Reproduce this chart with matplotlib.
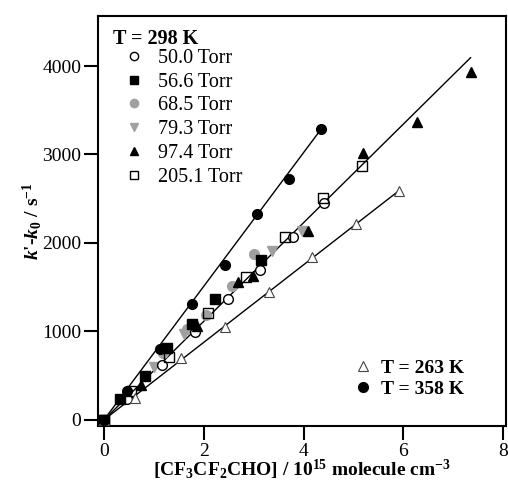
import matplotlib.pyplot as plt
import numpy as np

plt.rcParams['font.family'] = ['Liberation Serif', 'DejaVu Serif']
plt.rcParams['mathtext.fontset'] = 'custom'
plt.rcParams['mathtext.rm'] = 'Liberation Serif'
plt.rcParams['mathtext.it'] = 'Liberation Serif:italic'
plt.rcParams['mathtext.bf'] = 'Liberation Serif:bold'
plt.rcParams['mathtext.bfit'] = 'Liberation Serif:italic:bold'

# T = 298 K, different pressures
x_50 = [0, 0.46, 1.16, 1.82, 2.48, 3.13, 3.79, 4.42]
y_50 = [0, 234, 621, 998, 1363, 1695, 2064, 2448]
x_56 = [0, 0.32, 0.82, 1.27, 1.76, 2.23, 3.15]
y_56 = [0, 237, 497, 817, 1085, 1363, 1808]
x_68 = [0, 1.19, 1.66, 2.05, 2.56, 3.01]
y_68 = [0, 753, 1025, 1190, 1514, 1876]
x_79 = [0, 1.01, 1.60, 3.37, 3.96]
y_79 = [0, 602, 970, 1913, 2139]
x_97 = [0, 0.74, 1.87, 2.68, 2.99, 4.10, 5.19, 6.27, 7.35]
y_97 = [0, 395, 1062, 1563, 1627, 2139, 3020, 3371, 3929]
x_205 = [0, 0.54, 1.31, 2.08, 2.85, 3.63, 4.40, 5.17]
y_205 = [0, 331, 715, 1213, 1613, 2064, 2505, 2870]

# T = 263 K
x_263 = [0, 0.62, 1.54, 2.43, 3.31, 4.18, 5.06, 5.91]
y_263 = [0, 245, 697, 1054, 1450, 1845, 2217, 2591]
# T = 358 K
x_358 = [0, 0.47, 1.12, 1.77, 2.43, 3.07, 3.71, 4.35]
y_358 = [0, 331, 802, 1311, 1751, 2328, 2720, 3285]

# slopes of the fitted lines (s^-1 per 10^15 molecule cm^-3)
slope_298 = 557
slope_263 = 438
slope_358 = 755

fig = plt.figure(figsize=(5.08, 4.84), dpi=100)
ax = fig.add_axes([0.193, 0.1198, 0.804, 0.848])

gray = '#a0a0a0'
ms = 7

for slope, xs in [(slope_298, x_97), (slope_263, x_263), (slope_358, x_358)]:
    xl = np.array([0, max(xs)])
    ax.plot(xl, slope * xl, color='black', lw=1.0, zorder=1)

h50, = ax.plot(x_50, y_50, 'o', ms=ms, mfc='white', mec='black', mew=1.0, ls='none', zorder=3)
h56, = ax.plot(x_56, y_56, 's', ms=6.5, mfc='black', mec='black', ls='none', zorder=3)
h68, = ax.plot(x_68, y_68, 'o', ms=ms, mfc=gray, mec=gray, ls='none', zorder=2)
h79, = ax.plot(x_79, y_79, 'v', ms=ms, mfc=gray, mec=gray, ls='none', zorder=2)
h97, = ax.plot(x_97, y_97, '^', ms=ms, mfc='black', mec='black', ls='none', zorder=3)
h205, = ax.plot(x_205, y_205, 's', ms=6.5, mfc='none', mec='black', mew=1.0, ls='none', zorder=3)
h263, = ax.plot(x_263, y_263, '^', ms=ms, mfc='white', mec='#444444', mew=0.8, ls='none', zorder=3)
h358, = ax.plot(x_358, y_358, 'o', ms=ms, mfc='black', mec='black', ls='none', zorder=3)

ax.set_xlim(-0.12, 8.07)
ax.set_ylim(-70, 4570)
ax.set_xticks([0, 2, 4, 6, 8])
ax.set_yticks([0, 1000, 2000, 3000, 4000])
ax.tick_params(direction='out', length=10, width=1.5, labelsize=14, pad=2,
               top=False, right=False)
for s in ax.spines.values():
    s.set_linewidth(1.5)

ax.set_xlabel(r"[CF$_\mathbf{3}$CF$_\mathbf{2}$CHO] / 10$^\mathbf{15}$ molecule cm$^\mathbf{-3}$",
              fontsize=14, fontweight='bold', labelpad=-1)
ax.set_ylabel(r"$\mathbfit{k}$'-$\mathbfit{k}_\mathbf{0}$ / s$^\mathbf{-1}$",
              fontsize=14, fontweight='bold', labelpad=-1)

ax.text(0.037, 0.943, 'T = 298 K', transform=ax.transAxes, fontsize=14.5,
        fontweight='bold', ha='left', va='center')
leg1 = ax.legend([h50, h56, h68, h79, h97, h205],
                 ['50.0 Torr', '56.6 Torr', '68.5 Torr', '79.3 Torr', '97.4 Torr', '205.1 Torr'],
                 loc='upper left', bbox_to_anchor=(0.064, 0.919), frameon=False, fontsize=14.5,
                 borderpad=0, borderaxespad=0,
                 handlelength=1.0, handletextpad=0.7, labelspacing=0.23,
                 markerscale=0.85)
ax.add_artist(leg1)
ax.legend([h263, h358], ['T = 263 K', 'T = 358 K'],
          prop={'weight': 'bold', 'size': 14}, loc='lower right',
          bbox_to_anchor=(0.896, 0.068), frameon=False, borderpad=0, borderaxespad=0,
          handlelength=1.0, handletextpad=0.4, labelspacing=0.2)

fig.savefig('out.png', dpi=100)
